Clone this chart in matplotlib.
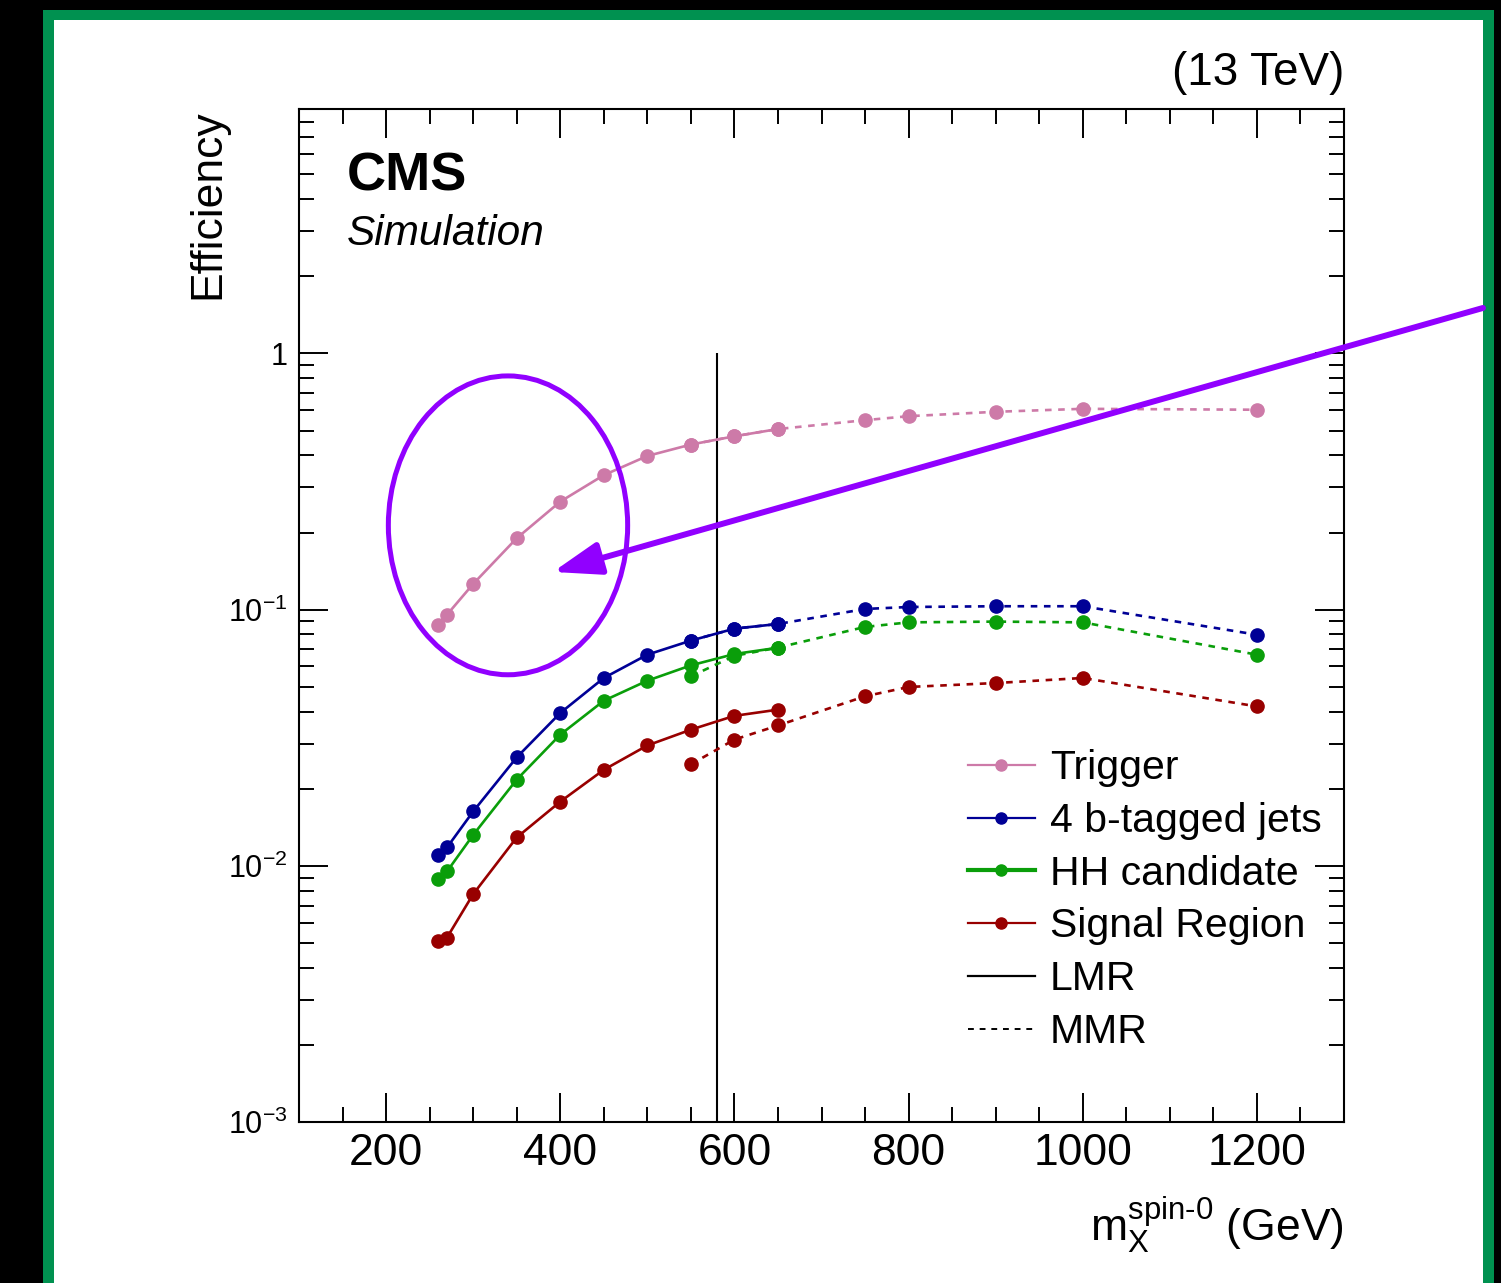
import matplotlib
matplotlib.use('Agg')
import matplotlib.pyplot as plt
from matplotlib.patches import Rectangle, Ellipse
from matplotlib.lines import Line2D
from matplotlib.ticker import FixedLocator, FixedFormatter, LogLocator, NullFormatter, MultipleLocator

plt.rcParams['font.family'] = ['Liberation Sans', 'DejaVu Sans']
plt.rcParams['mathtext.fontset'] = 'custom'
plt.rcParams['mathtext.rm'] = 'Liberation Sans'
plt.rcParams['mathtext.it'] = 'Liberation Sans:italic'
plt.rcParams['mathtext.bf'] = 'Liberation Sans:bold'

# signal masses (GeV) for the low-mass and medium-mass regions
mass_lmr = [260, 270, 300, 350, 400, 450, 500, 550, 600, 650]
mass_mmr = [550, 600, 650, 750, 800, 900, 1000, 1200]

# efficiencies after each selection step
trigger_lmr = [0.0873, 0.0956, 0.126, 0.190, 0.264, 0.335, 0.398, 0.441, 0.475, 0.507]
btag_lmr = [0.0110, 0.0118, 0.0163, 0.0265, 0.0395, 0.0541, 0.0667, 0.0757, 0.0843, 0.0879]
hh_lmr = [0.00887, 0.00951, 0.0132, 0.0217, 0.0325, 0.0441, 0.0528, 0.0606, 0.0671, 0.0710]
sr_lmr = [0.00511, 0.00525, 0.00775, 0.0129, 0.0178, 0.0237, 0.0295, 0.0340, 0.0385, 0.0407]

trigger_mmr = [0.441, 0.475, 0.507, 0.549, 0.569, 0.592, 0.608, 0.603]
btag_mmr = [0.0757, 0.0843, 0.0879, 0.1006, 0.1024, 0.1031, 0.1031, 0.0798]
hh_mmr = [0.0549, 0.0660, 0.0711, 0.0856, 0.0892, 0.0898, 0.0892, 0.0667]
sr_mmr = [0.0249, 0.0311, 0.0353, 0.0459, 0.0499, 0.0517, 0.0541, 0.0419]

labels = ['Trigger', '4 b-tagged jets', 'HH candidate', 'Signal Region']
colors = ['#cd7aa8', '#000096', '#0a9e0a', '#980000']

boundary_mass = 580
boundary_top = 1.0

ytick_vals = [1e-3, 1e-2, 1e-1, 1]
ytick_labels = [r'10$^{-3}$', r'10$^{-2}$', r'10$^{-1}$', '1']
xtick_vals = [200, 400, 600, 800, 1000, 1200]

W, H = 1501, 1283
fig = plt.figure(figsize=(W / 100, H / 100), dpi=100)
fig.patch.set_facecolor('black')
fig.add_artist(Rectangle((43 / W, 0), 1451 / W, 1273 / H, transform=fig.transFigure,
                         facecolor='#009150', edgecolor='none', zorder=-3))
fig.add_artist(Rectangle((54 / W, 0), 1429 / W, 1263 / H, transform=fig.transFigure,
                         facecolor='white', edgecolor='none', zorder=-2))

ax = fig.add_axes([299 / W, 1 - 1122 / H, 1045 / W, 1013 / H])
ax.set_yscale('log')
ax.set_xlim(100, 1300)
ax.set_ylim(1e-3, 9)

dash = (0, (2.5, 2.5))
for lmr, mmr, col, lab in zip([trigger_lmr, btag_lmr, hh_lmr, sr_lmr],
                              [trigger_mmr, btag_mmr, hh_mmr, sr_mmr], colors, labels):
    ax.plot(mass_mmr, mmr, color=col, lw=1.9, ls=dash, marker='o', ms=9.5, zorder=2)
    ax.plot(mass_lmr, lmr, color=col, lw=1.9, marker='o', ms=9.5, zorder=3)

ax.vlines(boundary_mass, 1e-3, boundary_top, color='black', lw=1.5, zorder=1)

# ticks inside on all sides
ax.xaxis.set_major_locator(FixedLocator(xtick_vals))
ax.xaxis.set_minor_locator(MultipleLocator(50))
ax.yaxis.set_major_locator(FixedLocator(ytick_vals))
ax.yaxis.set_major_formatter(FixedFormatter(ytick_labels))
ax.yaxis.set_minor_locator(LogLocator(base=10, subs=range(2, 10)))
ax.yaxis.set_minor_formatter(NullFormatter())
ax.tick_params(which='both', direction='in', top=True, right=True, width=1.4, color='black')
ax.tick_params(which='major', length=21)
ax.tick_params(which='minor', length=11)
ax.tick_params(axis='x', labelsize=32, pad=8)
ax.tick_params(axis='y', labelsize=22, pad=8)
for sp in ax.spines.values():
    sp.set_linewidth(1.5)

ax.set_xlabel(r'm$_{\mathrm{X}}^{\text{spin-0}}$ (GeV)', fontsize=32, loc='right')
ax.xaxis.set_label_coords(1.0, -0.072)
ax.set_ylabel('Efficiency', fontsize=32, loc='top')
ax.yaxis.set_label_coords(-0.068, 1.0)

ax.text(0.046, 0.92, 'CMS', transform=ax.transAxes, fontsize=39, fontweight='bold', va='baseline')
ax.text(0.046, 0.866, 'Simulation', transform=ax.transAxes, fontsize=30.5, style='italic', va='baseline')
ax.text(1.0, 1.0237, '(13 TeV)', transform=ax.transAxes, fontsize=33, ha='right', va='baseline')

handles = [Line2D([], [], color=colors[0], lw=1.6, marker='o', ms=8),
           Line2D([], [], color=colors[1], lw=1.6, marker='o', ms=8),
           Line2D([], [], color=colors[2], lw=3.0, marker='o', ms=8),
           Line2D([], [], color=colors[3], lw=1.6, marker='o', ms=8),
           Line2D([], [], color='black', lw=1.6),
           Line2D([], [], color='black', lw=1.4, ls=(0, (3, 3)))]
ax.legend(handles, labels + ['LMR', 'MMR'], loc='upper left', bbox_to_anchor=(0.640, 0.368),
          frameon=False, fontsize=29.5, handlelength=1.63, handletextpad=0.37,
          labelspacing=0.36, borderpad=0, borderaxespad=0)

# highlight of the trigger turn-on
purple = '#9100ff'
ax.add_patch(Ellipse((0.2, 0.589), 0.229, 0.295, transform=ax.transAxes, fill=False,
                     edgecolor=purple, lw=3.6, clip_on=False, zorder=5))
ax.annotate('', xy=(0.243, 0.543), xycoords='axes fraction', xytext=(1.133, 0.8036),
            textcoords='axes fraction', annotation_clip=False, zorder=5,
            arrowprops=dict(arrowstyle='-|>,head_length=29,head_width=10', mutation_scale=1,
                            lw=4.3, color=purple, shrinkA=0, shrinkB=0))

fig.savefig('out.png', dpi=100, facecolor=fig.get_facecolor())
